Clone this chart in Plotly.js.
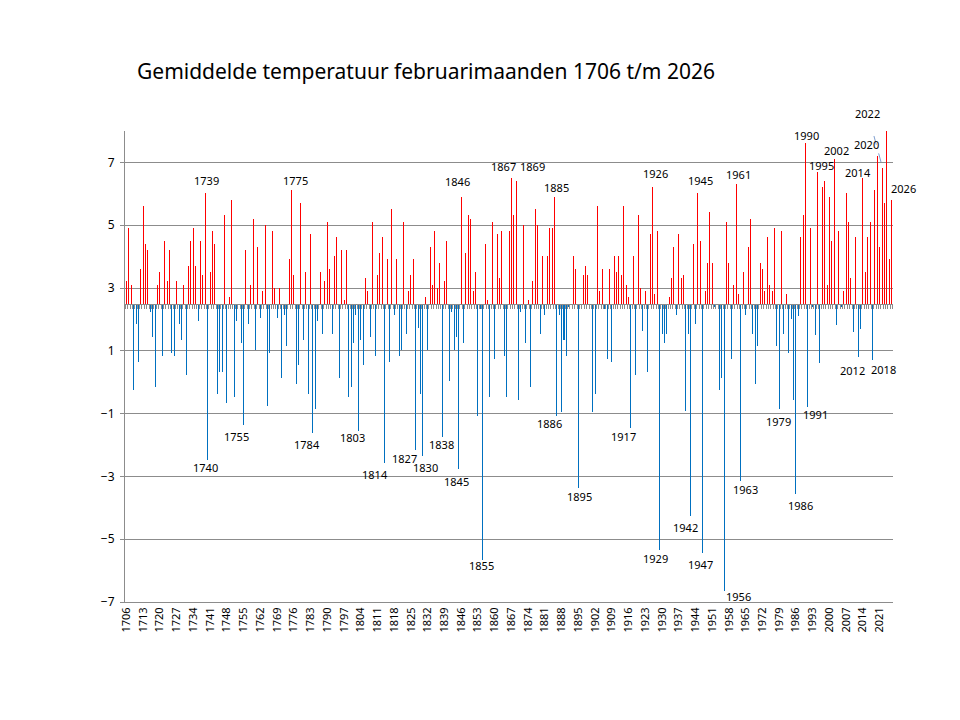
<!DOCTYPE html>
<html>
<head>
<meta charset="utf-8">
<script src="https://cdn.plot.ly/plotly-3.0.1.min.js"></script>
<style>
  html, body { margin: 0; padding: 0; background: #ffffff; }
  #chart { width: 960px; height: 720px; }
  /* keep the thin bars sharp */
  #chart .bars path, #chart .xtick, #chart .x2tick { shape-rendering: crispEdges; }
</style>
</head>
<body>
<div id="chart"></div>
<script>
// Gemiddelde februaritemperatuur (°C), 1706 t/m 2026
const firstYear = 1706;
const lastYear = 2026;

const temps1706_1744 = [3.22, 4.92, 3.10, -0.25, 1.85, 0.64, 3.61, 5.61, 4.41, 4.22,
  2.23, 1.43, -0.15, 3.10, 3.52, 0.83, 4.50, 3.23, 4.22, 0.93,
  0.83, 3.23, 1.85, 1.34, 3.10, 0.23, 3.71, 4.50, 4.92, 3.71,
  1.94, 4.50, 3.42, 6.03, -2.47, 3.52, 4.82, 4.41, -0.38];
const temps1745_1784 = [0.32, 0.32, 5.33, -0.66, 2.72, 5.80, -0.47, 1.94, 2.45, 1.24,
  -1.36, 4.22, 1.85, 3.10, 5.20, 1.03, 4.31, 2.04, 2.92, 5.01,
  -0.76, 0.93, 4.82, 3.01, 2.04, 3.01, 0.13, 2.13, 1.14, 3.93,
  6.12, 3.42, -0.06, 0.54, 5.71, 1.34, 3.52, -0.38, 4.72, -1.63];
const temps1785_1824 = [-0.85, 1.94, 3.52, 1.53, 3.23, 5.11, 3.61, 1.53, 4.03, 4.63,
  0.13, 4.22, 2.62, 4.22, -0.47, -0.15, 1.24, 2.13, -1.55, 1.34,
  0.54, 3.33, 2.92, 1.43, 5.11, 0.83, 3.42, 4.12, 4.63, -2.57,
  3.93, 0.64, 5.52, 2.13, 3.93, 0.83, 1.03, 5.11, 1.53, 2.92];
const temps1825_1864 = [3.42, 3.93, -2.15, 1.72, -0.38, -2.34, 2.72, 1.03, 4.31, 3.10,
  4.82, 3.01, 3.80, -1.76, 3.23, 4.50, 0.04, 2.23, 1.03, 1.43,
  -2.76, 5.90, 1.24, 4.12, 5.33, 5.20, 2.92, 3.52, -1.08, 2.34,
  -5.65, 4.41, 2.62, -0.47, 5.11, 0.74, 4.72, 3.33, 4.82, 0.83];
const temps1865_1904 = [-0.47, 4.82, 6.50, 5.33, 6.41, -0.57, 2.23, 5.01, 1.24, 2.62,
  -0.15, 3.23, 5.52, 5.01, 1.53, 4.03, 2.13, 4.03, 4.92, 4.92,
  5.90, -1.08, 2.13, -0.96, 1.34, 0.83, 2.40, 2.45, 4.03, 3.61,
  -3.36, 2.45, 3.42, 3.71, 3.42, 2.45, -0.96, -0.38, 5.61, 2.92];
const temps1905_1943 = [3.61, 2.34, 0.74, 3.61, 0.64, 4.03, 3.52, 4.03, 3.42, 5.61,
  3.10, 2.72, -1.45, 4.03, 0.23, 5.33, 3.01, 1.62, 2.92, 0.32,
  4.72, 6.22, 2.82, 4.82, -5.35, 1.53, 1.24, 1.53, 2.72, 3.33,
  4.31, 2.13, 4.72, 3.33, 3.42, -0.92, 1.53, -4.25, 4.41];
const temps1944_1983 = [1.85, 6.03, 4.50, -5.44, 2.92, 3.80, 5.42, 3.80, 2.40, 2.45,
  -0.25, 0.13, -6.65, 5.11, 3.80, 0.74, 3.10, 6.31, 2.82, -3.16,
  3.52, 2.13, 4.31, 5.20, 1.53, -0.06, 1.14, 3.80, 3.61, 2.92,
  4.63, 3.10, 2.92, 4.92, 1.14, -0.85, 4.82, 1.53, 2.82, 0.93];
const temps1984_2026 = [2.02, -0.58, -3.57, 2.12, 4.62, 5.32, 7.62, -0.78, 4.91, 2.39,
  1.51, 6.71, 0.62, 6.22, 6.41, 3.10, 5.90, 4.50, 7.11, 1.83,
  4.82, 2.39, 2.91, 6.02, 5.10, 3.32, 1.60, 4.62, 0.81, 1.70,
  6.50, 3.51, 4.62, 5.10, 0.71, 6.12, 7.20, 4.31, 6.82, 5.71,
  8.03, 3.92, 5.80];

// Long-term mean: bars rise or fall from this level
const baseline = 2.5;

// Years that carry a year label next to their bar
const labelledYears = [1739, 1740, 1755, 1775, 1784, 1803, 1814, 1827, 1830, 1838,
  1845, 1846, 1855, 1867, 1869, 1885, 1886, 1895, 1917, 1926, 1929, 1942, 1945,
  1947, 1956, 1961, 1963, 1979, 1986, 1990, 1991, 1995, 2002, 2012, 2014, 2018,
  2020, 2022, 2024, 2026];

// ---------------------------------------------------------------------------
const temps = [].concat(temps1706_1744, temps1745_1784, temps1785_1824,
  temps1825_1864, temps1865_1904, temps1905_1943, temps1944_1983, temps1984_2026);
const years = [];
for (let y = firstYear; y <= lastYear; y++) years.push(y);

const RED = '#ff0000';
const BLUE = '#0070c0';
const GRID = '#8c8c8c';
const FONT = 'Noto Sans, Open Sans, DejaVu Sans, sans-serif';

const yMin = -7, yMax = 8;

// label placement: [horizontal px shift, vertical px distance from bar end (down = +)]
const labelShift = {
  1739: [1, -12], 1740: [-2, 8], 1755: [-7, 12], 1775: [4, -10], 1784: [-6, 11],
  1803: [-6, 7], 1814: [-10, 12], 1827: [-11, 9], 1830: [3, 12], 1838: [-1, 7],
  1845: [-2, 13], 1846: [-4, -15], 1855: [-1, 6], 1867: [-8, -12], 1869: [16, -14],
  1885: [2, -9], 1886: [-7, 7], 1895: [1, 9], 1917: [-7, 9], 1926: [3, -13],
  1929: [-4, 8], 1942: [-5, 12], 1945: [3, -12], 1947: [-2, 11], 1956: [14, 5],
  1961: [2, -10], 1963: [5, 8], 1979: [-1, 13], 1986: [5, 11], 1990: [1, -7],
  1991: [8, 8], 1995: [4, -6], 2002: [2, -8], 2012: [-6, 14], 2014: [-5, -6],
  2018: [11, 10], 2020: [-11, -12], 2022: [-15, -55], 2024: [10, -9], 2026: [12, -12]
};

const bars = {
  type: 'bar',
  x: years,
  y: temps.map(v => v - baseline),
  base: baseline,
  width: 0.42,
  marker: { color: temps.map(v => (v >= baseline ? RED : BLUE)), line: { width: 0 } },
  xaxis: 'x',
  yaxis: 'y',
  hoverinfo: 'x+text',
  text: temps.map(v => v.toFixed(1)),
  textposition: 'none'
};

// invisible carrier so the baseline axis (x2) gets drawn
const baseCarrier = {
  type: 'scatter', mode: 'none', x: [firstYear], y: [baseline],
  xaxis: 'x2', yaxis: 'y', hoverinfo: 'skip', showlegend: false
};

const annotations = labelledYears.map(yr => {
  const v = temps[yr - firstYear];
  const s = labelShift[yr] || [0, v >= baseline ? -10 : 10];
  return {
    x: yr, y: v, xref: 'x', yref: 'y',
    text: String(yr), showarrow: false,
    xanchor: 'center', yanchor: 'middle',
    xshift: s[0], yshift: -s[1],
    font: { family: FONT, size: 11, color: '#000000' }
  };
});

const v2022 = temps[2022 - firstYear];
const shapes = [{
  type: 'line', xref: 'x', yref: 'y',
  xsizemode: 'pixel', ysizemode: 'pixel',
  xanchor: 2022, yanchor: v2022,
  x0: -1, y0: 6, x1: -11, y1: 43,
  line: { color: '#7f9fd0', width: 1, dash: 'dash' }
}];

const layout = {
  width: 960, height: 720,
  margin: { l: 125, r: 67, t: 131, b: 118, pad: 0 },
  paper_bgcolor: '#ffffff', plot_bgcolor: '#ffffff',
  showlegend: false,
  bargap: 0,
  title: {
    text: 'Gemiddelde temperatuur februarimaanden 1706 t/m 2026',
    xref: 'container', yref: 'container',
    x: 137 / 960, xanchor: 'left',
    y: 1 - 72 / 720, yanchor: 'middle',
    font: { family: FONT, size: 21, color: '#000000' }
  },
  xaxis: {
    range: [firstYear - 0.6, lastYear + 0.6],
    tickmode: 'linear', tick0: firstYear, dtick: 7,
    tickangle: -90,
    ticks: '', showgrid: false, zeroline: false,
    showline: true, linecolor: GRID, linewidth: 1,
    tickfont: { family: FONT, size: 11, color: '#000000' },
    fixedrange: true
  },
  xaxis2: {
    overlaying: 'x', matches: 'x',
    anchor: 'free', position: (baseline - yMin) / (yMax - yMin),
    tickmode: 'linear', tick0: firstYear - 0.5, dtick: 1,
    ticks: 'outside', ticklen: 4, tickwidth: 1, tickcolor: GRID,
    showticklabels: false, showgrid: false, zeroline: false,
    showline: true, linecolor: GRID, linewidth: 1
  },
  yaxis: {
    range: [yMin, yMax],
    tickmode: 'linear', tick0: -7, dtick: 2,
    showgrid: true, gridcolor: GRID, gridwidth: 1,
    zeroline: false,
    showline: true, linecolor: GRID, linewidth: 1,
    ticks: 'outside', ticklen: 4, tickcolor: GRID,
    ticklabelstandoff: 3,
    tickfont: { family: FONT, size: 12, color: '#000000' },
    fixedrange: true
  },
  annotations: annotations,
  shapes: shapes
};

Plotly.newPlot('chart', [bars, baseCarrier], layout, { staticPlot: true, displayModeBar: false });
</script>
</body>
</html>
